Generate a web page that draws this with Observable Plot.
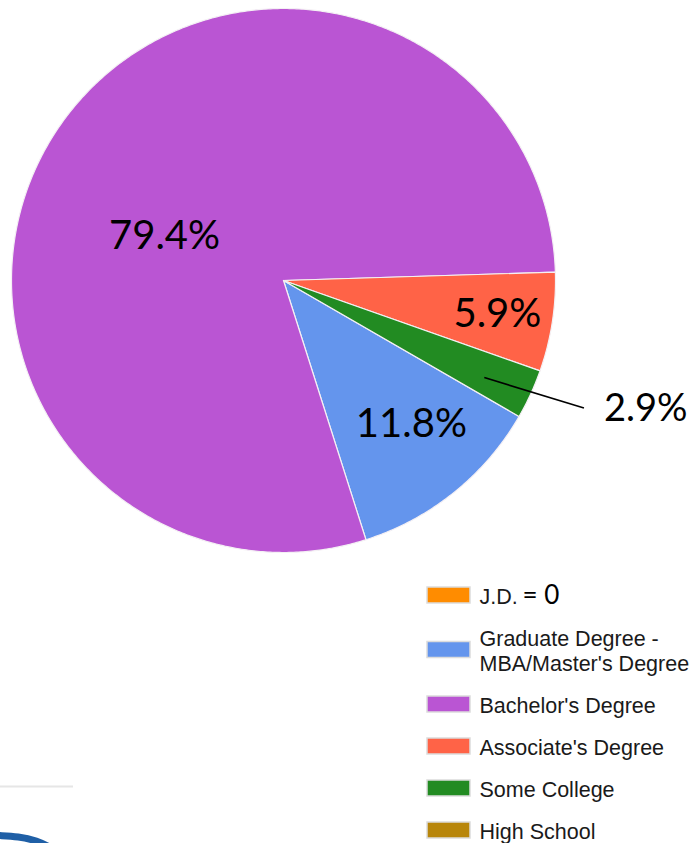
<!DOCTYPE html>
<html>
<head>
<meta charset="utf-8">
<script src="https://cdn.jsdelivr.net/npm/d3@7"></script>
<script src="https://cdn.jsdelivr.net/npm/@observablehq/plot@0.6"></script>
<style>
  html, body { margin: 0; padding: 0; background: #fff; overflow: hidden; }
  #chart svg { display: block; }
</style>
</head>
<body>
<div id="chart"></div>
<script>
// ---- Data ----
const categories = ["J.D.", "Graduate Degree -\nMBA/Master's Degree", "Bachelor's Degree", "Associate's Degree", "Some College", "High School"];
const counts = [0, 4, 27, 2, 1, 0];
const colors = ["#ff8c00", "#6495ed", "#ba55d3", "#ff6347", "#228b22", "#b8860b"];
const legendNotes = ["= 0", "", "", "", "", ""];

// ---- Layout ----
const W = 694, H = 843;
const cx = 283, cy = 280, R = 272, startDeg = 120;
const rad = d => d * Math.PI / 180;
const polar = (a, r) => ({x: cx + r * Math.sin(a), y: cy - r * Math.cos(a)});

const labelLayout = {
  [categories[2]]: {k: 0.466, dA: -15.05},
  [categories[1]]: {k: 0.708, dA: -2.8},
  [categories[3]]: {k: 0.796, dA: 0.1},
  [categories[4]]: {outside: true, k0: 0.82, dA0: 1.1, k1: 1.2, dA1: -1.7, gap: 20}
};

const total = d3.sum(counts);
const arcs = d3.pie().sort(null)
  .startAngle(rad(startDeg)).endAngle(rad(startDeg) + 2 * Math.PI)(counts);

// slice polygons
const slicePts = [];
arcs.forEach((a, i) => {
  if (a.value === 0) return;
  const key = categories[i];
  slicePts.push({key, ...polar(0, 0)});
  const n = Math.max(2, Math.ceil((a.endAngle - a.startAngle) / (Math.PI / 360)));
  for (let j = 0; j <= n; j++) {
    const t = a.startAngle + (a.endAngle - a.startAngle) * j / n;
    slicePts.push({key, ...polar(t, R)});
  }
  slicePts.push({key, ...polar(0, 0)});
});

// percent labels
const inLabels = [], outLabels = [], leaders = [];
arcs.forEach((a, i) => {
  if (a.value === 0) return;
  const key = categories[i];
  const L = labelLayout[key];
  const mid = (a.startAngle + a.endAngle) / 2;
  const text = (a.value / total * 100).toFixed(1) + "%";
  if (L.outside) {
    const p0 = polar(mid + rad(L.dA0), R * L.k0);
    const p1 = polar(mid + rad(L.dA1), R * L.k1);
    leaders.push({x1: p0.x, y1: p0.y, x2: p1.x, y2: p1.y});
    outLabels.push({x: p1.x + L.gap, y: p1.y + 1, text});
  } else {
    const p = polar(mid + rad(L.dA), R * L.k);
    inLabels.push({...p, text});
  }
});

// legend rows
const legendRows = [];
let y = 595, prevExtra = 0;
categories.forEach((c, i) => {
  const extra = c.split("\n").length - 1;
  if (i > 0) y += 42 + 12.5 * (prevExtra + extra);
  legendRows.push({key: c, y, note: legendNotes[i]});
  prevExtra = extra;
});

// bottom-left page fragments (cropped from the source screenshot)
const decoRule = [{x1: 0, x2: 73, y: 786}];
const decoArc = [{x: -2, y: 835}, {x: 18, y: 836}, {x: 36, y: 840}, {x: 52, y: 848}];

const chart = Plot.plot({
  width: W, height: H, margin: 0,
  x: {domain: [0, W], range: [0, W], axis: null},
  y: {domain: [0, H], range: [0, H], axis: null},
  color: {domain: categories, range: colors},
  style: {background: "white"},
  marks: [
    Plot.line(slicePts, {x: "x", y: "y", z: "key", fill: "key", stroke: "#f4f0f4", strokeWidth: 1.2, curve: "linear"}),
    Plot.link(leaders, {x1: "x1", y1: "y1", x2: "x2", y2: "y2", stroke: "#000", strokeWidth: 1.6}),
    Plot.text(inLabels, {x: "x", y: "y", text: "text", fontFamily: "Lato, 'Open Sans', sans-serif", fontSize: 40, fill: "#000", textAnchor: "middle", lineAnchor: "middle"}),
    Plot.text(outLabels, {x: "x", y: "y", text: "text", fontFamily: "Lato, 'Open Sans', sans-serif", fontSize: 38, fill: "#000", textAnchor: "start", lineAnchor: "middle"}),
    Plot.rect(legendRows, {x1: () => 427, x2: () => 470, y1: d => d.y - 8, y2: d => d.y + 8, fill: "key", stroke: "#dcdcdc", strokeWidth: 1.5}),
    Plot.text(legendRows, {x: () => 479, y: "y", text: d => d.key, textAnchor: "start", lineAnchor: "middle", fontFamily: "'Liberation Sans', Arial, sans-serif", fontSize: 21.5, lineHeight: 25 / 21.5, fill: "#1a1a1a"}),
    Plot.text(legendRows.filter(d => d.note), {x: () => 522, y: d => d.y + 0.5, text: "note", textAnchor: "start", lineAnchor: "middle", fontFamily: "Lato, 'Open Sans', sans-serif", fontSize: 26, fill: "#000"}),
    Plot.ruleY(decoRule, {x1: "x1", x2: "x2", y: "y", stroke: "#e6e6e6", strokeWidth: 2}),
    Plot.line(decoArc, {x: "x", y: "y", curve: "basis", stroke: "#1f5fa6", strokeWidth: 7})
  ]
});
document.getElementById("chart").appendChild(chart);
</script>
</body>
</html>
